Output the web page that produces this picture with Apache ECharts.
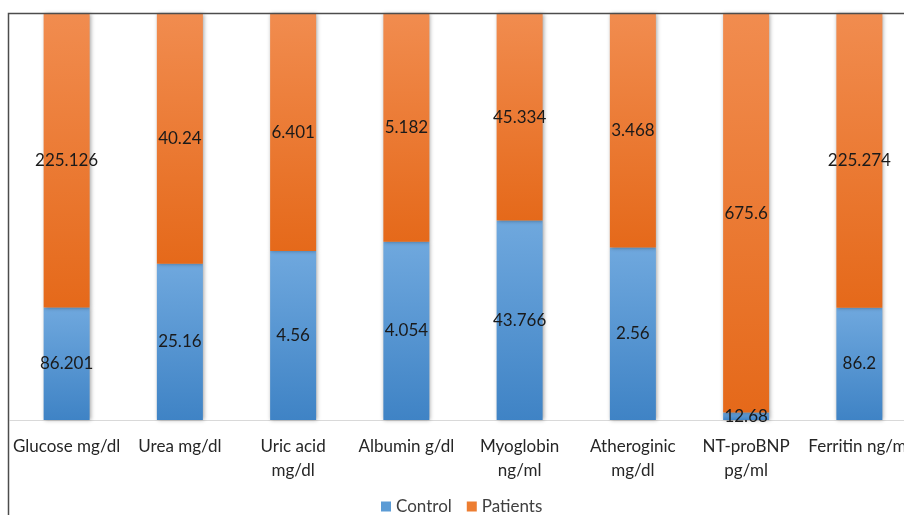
<!DOCTYPE html>
<html>
<head>
<meta charset="utf-8">
<script src="https://cdn.jsdelivr.net/npm/echarts@6/dist/echarts.min.js"></script>
<style>
html,body{margin:0;padding:0;background:#fff;overflow:hidden;}
#wrap{width:904px;height:515px;overflow:hidden;position:relative;}
#chart{width:920px;height:515px;position:absolute;left:0;top:0;}
</style>
</head>
<body>
<div id="wrap"><div id="chart"></div></div>
<script>
const categories = ['Glucose mg/dl', 'Urea mg/dl', 'Uric acid\nmg/dl', 'Albumin g/dl', 'Myoglobin\nng/ml', 'Atheroginic\nmg/dl', 'NT-proBNP\npg/ml', 'Ferritin ng/ml'];
const control = [86.201, 25.16, 4.56, 4.054, 43.766, 2.56, 12.68, 86.2];
const patients = [225.126, 40.24, 6.401, 5.182, 45.334, 3.468, 675.6, 225.274];

function share(a, b, i) { return a[i] / (a[i] + b[i]) * 100; }
const controlData = control.map((v, i) => ({ value: share(control, patients, i), raw: v }));
const patientsData = patients.map((v, i) => ({ value: share(patients, control, i), raw: v }));

const font = 'Lato';
const chart = echarts.init(document.getElementById('chart'), null, { renderer: 'canvas' });

function grad(top, bottom) {
  return new echarts.graphic.LinearGradient(0, 0, 0, 1, [
    { offset: 0, color: top }, { offset: 1, color: bottom }
  ]);
}

const labelCfg = {
  show: true,
  position: 'inside',
  color: '#1a1a1a',
  fontFamily: font,
  fontSize: 17,
  formatter: p => String(p.data.raw)
};

chart.setOption({
  animation: false,
  backgroundColor: '#fff',
  grid: { left: 10, top: 14, width: 906, bottom: 95 },
  graphic: [{
    type: 'polyline',
    shape: { points: [[8.5, 515], [8.5, 13.5], [920, 13.5]] },
    style: { stroke: '#4d4d4d', lineWidth: 1.5, fill: null },
    z: 100
  }],
  legend: {
    left: 379, top: 496, padding: 2,
    itemWidth: 10, itemHeight: 10, itemGap: 15,
    icon: 'rect',
    textStyle: { fontFamily: font, fontSize: 17, color: '#404040' },
    data: [
      { name: 'Control', itemStyle: { color: '#5b9bd5' } },
      { name: 'Patients', itemStyle: { color: '#ed7d31' } }
    ]
  },
  xAxis: {
    type: 'category',
    data: categories,
    axisLine: { lineStyle: { color: '#d9d9d9', width: 1 } },
    axisTick: { show: false },
    axisLabel: { interval: 0, fontFamily: font, fontSize: 17, color: '#262626', lineHeight: 24, margin: 15 }
  },
  yAxis: { type: 'value', min: 0, max: 100, show: false, splitLine: { show: false } },
  series: [
    {
      name: 'Control', type: 'bar', stack: 's', barWidth: 46,
      data: controlData,
      itemStyle: { color: grad('#6fa8de', '#3f83c5'), shadowBlur: 4, shadowColor: 'rgba(0,0,0,0.35)', shadowOffsetX: 1 },
      label: labelCfg
    },
    {
      name: 'Patients', type: 'bar', stack: 's', barWidth: 46,
      data: patientsData,
      itemStyle: { color: grad('#f18c4f', '#e5691a'), shadowBlur: 4, shadowColor: 'rgba(0,0,0,0.35)', shadowOffsetX: 1 },
      label: labelCfg
    }
  ]
});
</script>
</body>
</html>
